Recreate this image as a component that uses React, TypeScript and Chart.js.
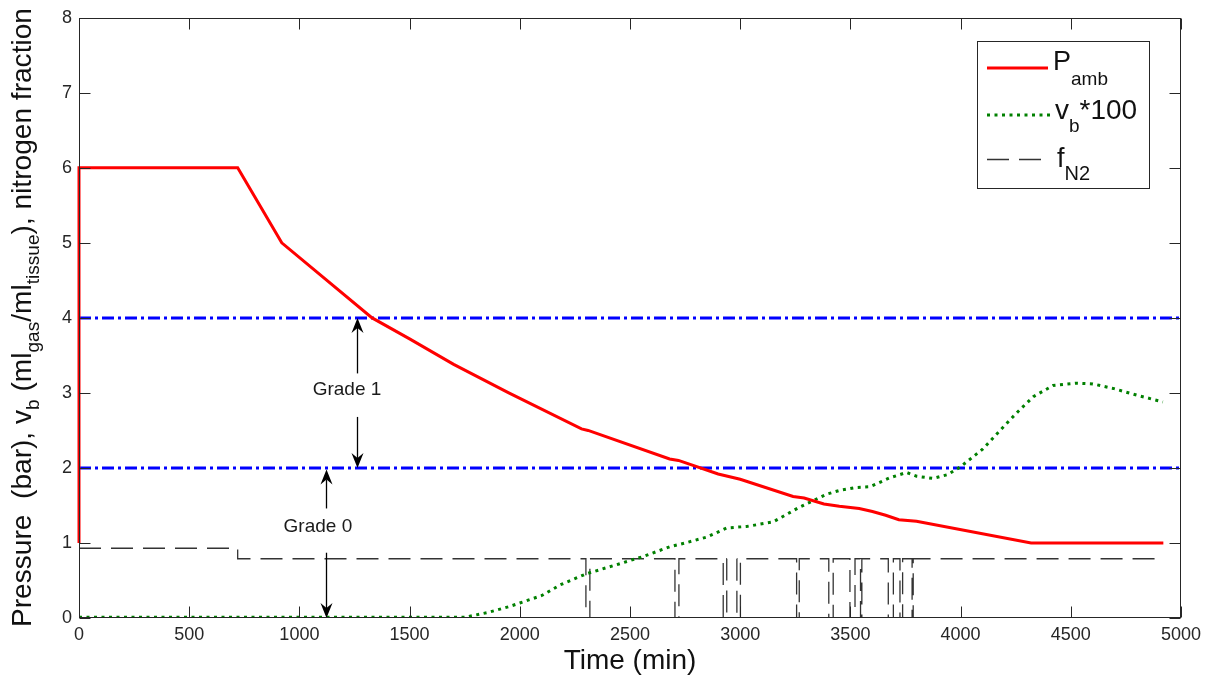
import React, { useEffect, useRef } from "react";
import { Chart, registerables } from "chart.js";

Chart.register(...registerables);

const FONT = '"Liberation Sans", Arial, Helvetica, sans-serif';

// Ambient pressure (bar)
const pambTime = [0, 0, 720, 920, 1330, 1500, 1700, 1950, 2280, 2310, 2680, 2720, 2900, 3000, 3240, 3290, 3380, 3450, 3540, 3600, 3660, 3720, 3800, 4320, 4920];
const pambValue = [1, 6, 6, 5.0, 4.0, 3.72, 3.38, 3.0, 2.52, 2.5, 2.12, 2.1, 1.92, 1.85, 1.62, 1.6, 1.52, 1.49, 1.46, 1.42, 1.37, 1.31, 1.29, 1.0, 1.0];

// Bubble volume * 100
const vbTime = [0, 1750, 1850, 1950, 2000, 2100, 2182, 2303, 2450, 2560, 2681, 2750, 2850, 2939, 3029, 3149, 3271, 3392, 3450, 3528, 3589, 3680, 3755, 3800, 3875, 3940, 3997, 4100, 4179, 4260, 4330, 4420, 4527, 4600, 4692, 4800, 4918];
const vbValue = [0.01, 0.01, 0.07, 0.15, 0.2, 0.3, 0.44, 0.59, 0.72, 0.82, 0.95, 1.0, 1.08, 1.2, 1.22, 1.28, 1.48, 1.65, 1.7, 1.74, 1.75, 1.87, 1.94, 1.89, 1.86, 1.91, 2.01, 2.25, 2.5, 2.75, 2.95, 3.1, 3.13, 3.12, 3.06, 2.97, 2.88];

// Nitrogen fraction
const n2Initial = 0.93;
const n2Level = 0.79;
const n2StepTime = 720;
const n2EndTime = 4920;
const n2DropStart = [2300, 2704, 2923, 2985, 3256, 3402, 3498, 3546, 3672, 3725, 3780];
const n2DropEnd = [2318, 2722, 2939, 3001, 3268, 3422, 3521, 3552, 3695, 3737, 3785];

// Grade thresholds
const gradeLevels = [4, 2];
const gradeRange = [0, 5000];

// Annotations (data coordinates)
const arrowX = [1260, 1260, 1121, 1121];
const arrowFrom = [3.26, 2.68, 1.46, 0.87];
const arrowTo = [4.0, 2.0, 1.98, 0.0];
const gradeText = ["Grade 1", "Grade 0"];
const gradeTextX = [1216, 1084];
const gradeTextY = [3.04, 1.21];

const n2Time: number[] = [0, n2StepTime, n2StepTime];
const n2Value: number[] = [n2Initial, n2Initial, n2Level];
n2DropStart.forEach((s, i) => {
  const e = n2DropEnd[i];
  n2Time.push(s, s, e, e);
  n2Value.push(n2Level, 0, 0, n2Level);
});
n2Time.push(n2EndTime);
n2Value.push(n2Level);

const toXY = (t: number[], v: number[]) => t.map((x, i) => ({ x, y: v[i] }));

const RED = "#ff0000";
const GREEN = "#008000";
const BLUE = "#0000ff";
const DARK = "#262626";

const BLUE_DASH = [12, 4, 3, 4];
const GREEN_DOT = [3, 4.5];
const N2_DASH = [22, 10];

type Part = [string, boolean];

function drawRich(ctx: CanvasRenderingContext2D, x: number, y: number, parts: Part[], main: number, sub: number, drop: number) {
  let cx = x;
  for (const [txt, isSub] of parts) {
    ctx.font = `${isSub ? sub : main}px ${FONT}`;
    ctx.fillText(txt, cx, isSub ? y + drop : y);
    cx += ctx.measureText(txt).width;
  }
  return cx - x;
}

function drawArrow(ctx: CanvasRenderingContext2D, x: number, y0: number, y1: number) {
  const dir = y1 > y0 ? 1 : -1;
  const len = 15, hw = 6, notch = 10;
  ctx.beginPath();
  ctx.moveTo(x, y0);
  ctx.lineTo(x, y1 - dir * notch);
  ctx.stroke();
  ctx.beginPath();
  ctx.moveTo(x, y1);
  ctx.lineTo(x - hw, y1 - dir * len);
  ctx.lineTo(x, y1 - dir * notch);
  ctx.lineTo(x + hw, y1 - dir * len);
  ctx.closePath();
  ctx.fill();
}

const decorPlugin = {
  id: "decor",
  afterDatasetsDraw(chart: any) {
    const ctx: CanvasRenderingContext2D = chart.ctx;
    const xs = chart.scales.x;
    const ys = chart.scales.y;
    ctx.save();
    ctx.strokeStyle = "#000";
    ctx.fillStyle = "#000";
    ctx.lineWidth = 1.3;
    arrowX.forEach((t, i) => {
      const px = Math.round(xs.getPixelForValue(t)) + 0.5;
      drawArrow(ctx, px, ys.getPixelForValue(arrowFrom[i]), ys.getPixelForValue(arrowTo[i]));
    });
    ctx.fillStyle = "#1a1a1a";
    ctx.font = `19px ${FONT}`;
    ctx.textAlign = "center";
    ctx.textBaseline = "middle";
    gradeText.forEach((txt, i) => {
      ctx.fillText(txt, xs.getPixelForValue(gradeTextX[i]), ys.getPixelForValue(gradeTextY[i]));
    });
    ctx.restore();
  },
  afterDraw(chart: any) {
    const ctx: CanvasRenderingContext2D = chart.ctx;
    const { left, right, top, bottom } = chart.chartArea;
    const xs = chart.scales.x;
    const ys = chart.scales.y;
    ctx.save();
    // box
    ctx.strokeStyle = DARK;
    ctx.lineWidth = 1;
    const L = Math.round(left) + 0.5, R = Math.round(right) - 0.5, T = Math.round(top) + 0.5, B = Math.round(bottom) - 0.5;
    ctx.strokeRect(L, T, R - L, B - T);
    // inward ticks
    const tl = 11;
    ctx.beginPath();
    xs.ticks.forEach((tk: any) => {
      const p = Math.round(xs.getPixelForValue(tk.value)) + 0.5;
      ctx.moveTo(p, B); ctx.lineTo(p, B - tl);
      ctx.moveTo(p, T); ctx.lineTo(p, T + tl);
    });
    ys.ticks.forEach((tk: any) => {
      const p = Math.round(ys.getPixelForValue(tk.value)) + 0.5;
      ctx.moveTo(L, p); ctx.lineTo(L + tl, p);
      ctx.moveTo(R, p); ctx.lineTo(R - tl, p);
    });
    ctx.stroke();

    // y title
    ctx.save();
    ctx.translate(31, 627);
    ctx.rotate(-Math.PI / 2);
    ctx.fillStyle = "#111";
    ctx.textBaseline = "alphabetic";
    ctx.textAlign = "left";
    drawRich(ctx, 0, 0, [
      ["Pressure  (bar), v", false],
      ["b", true],
      [" (ml", false],
      ["gas", true],
      ["/ml", false],
      ["tissue", true],
      ["), nitrogen fraction", false],
    ], 28.1, 19.1, 8);
    ctx.restore();

    // legend
    ctx.fillStyle = "#fff";
    ctx.fillRect(977.5, 41.5, 172, 147);
    ctx.strokeStyle = DARK;
    ctx.lineWidth = 1;
    ctx.strokeRect(977.5, 41.5, 172, 147);

    ctx.lineCap = "butt";
    ctx.strokeStyle = RED; ctx.lineWidth = 3; ctx.setLineDash([]);
    ctx.beginPath(); ctx.moveTo(987, 68); ctx.lineTo(1048, 68); ctx.stroke();
    ctx.strokeStyle = GREEN; ctx.lineWidth = 3; ctx.setLineDash(GREEN_DOT);
    ctx.beginPath(); ctx.moveTo(987, 115); ctx.lineTo(1050, 115); ctx.stroke();
    ctx.strokeStyle = "#333"; ctx.lineWidth = 1.3; ctx.setLineDash(N2_DASH);
    ctx.beginPath(); ctx.moveTo(987, 159.5); ctx.lineTo(1050, 159.5); ctx.stroke();
    ctx.setLineDash([]);

    ctx.fillStyle = "#111";
    ctx.textBaseline = "alphabetic";
    ctx.textAlign = "left";
    drawRich(ctx, 1053, 70, [["P", false], ["amb", true]], 27, 19, 15);
    drawRich(ctx, 1055, 119, [["v", false], ["b", true], ["*100", false]], 28, 19, 13);
    drawRich(ctx, 1057, 167, [["f", false], ["N2", true]], 27, 20, 13);
    ctx.restore();
  },
};

export default function App() {
  const ref = useRef<HTMLCanvasElement>(null);
  useEffect(() => {
    document.body.style.margin = "0";
    document.body.style.overflow = "hidden";
    const tickFont = { family: FONT, size: 18 };
    const datasets: any[] = [
      {
        label: "P_amb",
        data: toXY(pambTime, pambValue),
        borderColor: RED,
        borderWidth: 3,
        pointRadius: 0,
        clip: false,
      },
      {
        label: "v_b*100",
        data: toXY(vbTime, vbValue),
        borderColor: GREEN,
        borderWidth: 3,
        borderDash: GREEN_DOT,
        pointRadius: 0,
      },
      {
        label: "f_N2",
        data: toXY(n2Time, n2Value),
        borderColor: "#333",
        borderWidth: 1.3,
        borderDash: N2_DASH,
        pointRadius: 0,
      },
      ...gradeLevels.map((lv) => ({
        label: `grade ${lv}`,
        data: gradeRange.map((x) => ({ x, y: lv })),
        borderColor: BLUE,
        borderWidth: 3,
        borderDash: BLUE_DASH,
        pointRadius: 0,
      })),
    ];
    const chart = new Chart(ref.current!, {
      type: "line",
      data: { datasets },
      options: {
        animation: false,
        responsive: true,
        maintainAspectRatio: false,
        layout: { padding: { top: 17, right: 25, left: 0, bottom: 0 } },
        plugins: { legend: { display: false }, tooltip: { enabled: false } },
        elements: { line: { tension: 0 }, point: { radius: 0 } },
        scales: {
          x: {
            type: "linear",
            min: 0,
            max: 5000,
            ticks: { stepSize: 500, font: tickFont, color: DARK, padding: 6, maxRotation: 0, autoSkip: false, callback: (v: any) => String(v) },
            grid: { display: false, drawTicks: false },
            border: { display: false },
            title: { display: true, text: "Time (min)", font: { family: FONT, size: 28 }, color: "#111", padding: 0 },
            afterFit: (s: any) => { s.height = 60; },
          },
          y: {
            type: "linear",
            min: 0,
            max: 8,
            ticks: { stepSize: 1, font: tickFont, color: DARK, padding: 7, callback: (v: any) => String(v) },
            grid: { display: false, drawTicks: false },
            border: { display: false },
            afterFit: (s: any) => { s.width = 79; },
          },
        },
      } as any,
      plugins: [decorPlugin],
    });
    return () => chart.destroy();
  }, []);
  return (
    <div style={{ position: "relative", width: 1207, height: 678 }}>
      <canvas ref={ref} />
    </div>
  );
}
